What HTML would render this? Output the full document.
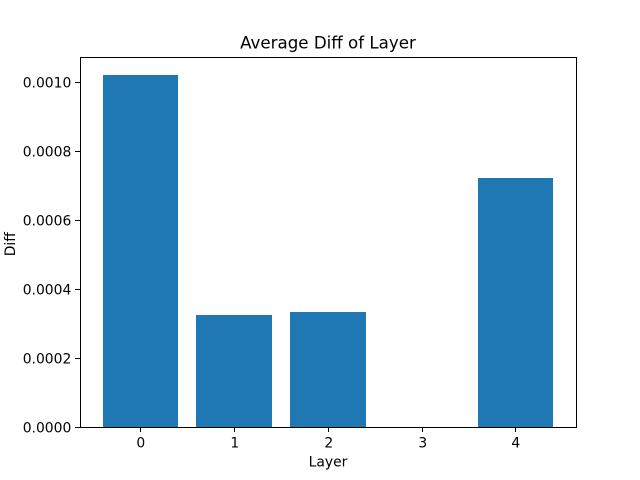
<!DOCTYPE html>
<html>
<head>
<meta charset="utf-8">
<style>
html,body{margin:0;padding:0;background:#fff;}
svg{display:block;}
text{font-family:"DejaVu Sans",sans-serif;fill:#000;}
</style>
</head>
<body>
<svg id="chart" xmlns="http://www.w3.org/2000/svg" width="640" height="480" viewBox="0 0 640 480">
<text x="328" y="48.5" font-size="16.67" text-anchor="middle">Average Diff of Layer</text>
<text x="328" y="466.5" font-size="13.89" text-anchor="middle">Layer</text>
<text transform="translate(14.8,244.2) rotate(-90)" font-size="13.89" text-anchor="middle">Diff</text>
<g id="marks"></g>
<g id="ticks"></g>
<rect x="80.5" y="57.5" width="496" height="370" fill="none" stroke="#000" stroke-width="1" shape-rendering="crispEdges"></rect>
</svg>
<script>
const categories = [0, 1, 2, 3, 4];
const diffValues = [0.00102, 0.000325, 0.000334, 0.0000002, 0.000722];
const yTickValues = [0, 0.0002, 0.0004, 0.0006, 0.0008, 0.001];
const yTickLabels = ["0.0000", "0.0002", "0.0004", "0.0006", "0.0008", "0.0010"];

const NS = "http://www.w3.org/2000/svg";
const plot = {left: 80, right: 576, top: 57.6, bottom: 427.2};
const barWidth = 0.8;
const xMin = Math.min(...categories) - barWidth / 2;
const xMax = Math.max(...categories) + barWidth / 2;
const xPad = (xMax - xMin) * 0.05;
const yTop = Math.max(...diffValues) * 1.05;

function xScale(v) {
  return plot.left + (v - (xMin - xPad)) / ((xMax + xPad) - (xMin - xPad)) * (plot.right - plot.left);
}
function yScale(v) {
  return plot.bottom - (v / yTop) * (plot.bottom - plot.top);
}
function snapLine(p) {
  return Math.floor(p + 0.1) + 0.5;
}
function make(tag, attrs) {
  const el = document.createElementNS(NS, tag);
  for (const k in attrs) el.setAttribute(k, attrs[k]);
  return el;
}

const marks = document.getElementById("marks");
const ticks = document.getElementById("ticks");

categories.forEach(function (c, i) {
  const x0 = Math.round(xScale(c - barWidth / 2));
  const x1 = Math.round(xScale(c + barWidth / 2));
  const y = Math.round(yScale(diffValues[i]));
  const base = Math.round(plot.bottom);
  const bar = make("rect", {x: x0, y: y, width: x1 - x0, height: base - y, fill: "#1f77b4", "shape-rendering": "crispEdges"});
  
  
  marks.appendChild(bar);

  const cx = snapLine(xScale(c));
  const tick = make("line", {x1: cx, x2: cx, y1: plot.bottom, y2: plot.bottom + 5, stroke: "#000", "stroke-width": 1, "shape-rendering": "crispEdges"});
  
  
  ticks.appendChild(tick);

  const label = make("text", {x: cx + 0.25, y: 447.5, "font-size": 13.89, "text-anchor": "middle"});
  label.textContent = String(c);
  
  
  ticks.appendChild(label);
});

yTickValues.forEach(function (v, i) {
  const y = yScale(v);
  const sy = snapLine(y);
  const tick = make("line", {x1: plot.left - 5, x2: plot.left, y1: sy, y2: sy, stroke: "#000", "stroke-width": 1, "shape-rendering": "crispEdges"});
  
  
  ticks.appendChild(tick);

  const label = make("text", {x: 71.3, y: y + 5.3, "font-size": 13.89, "text-anchor": "end"});
  label.textContent = yTickLabels[i];
  
  
  ticks.appendChild(label);
});
</script>
</body>
</html>
